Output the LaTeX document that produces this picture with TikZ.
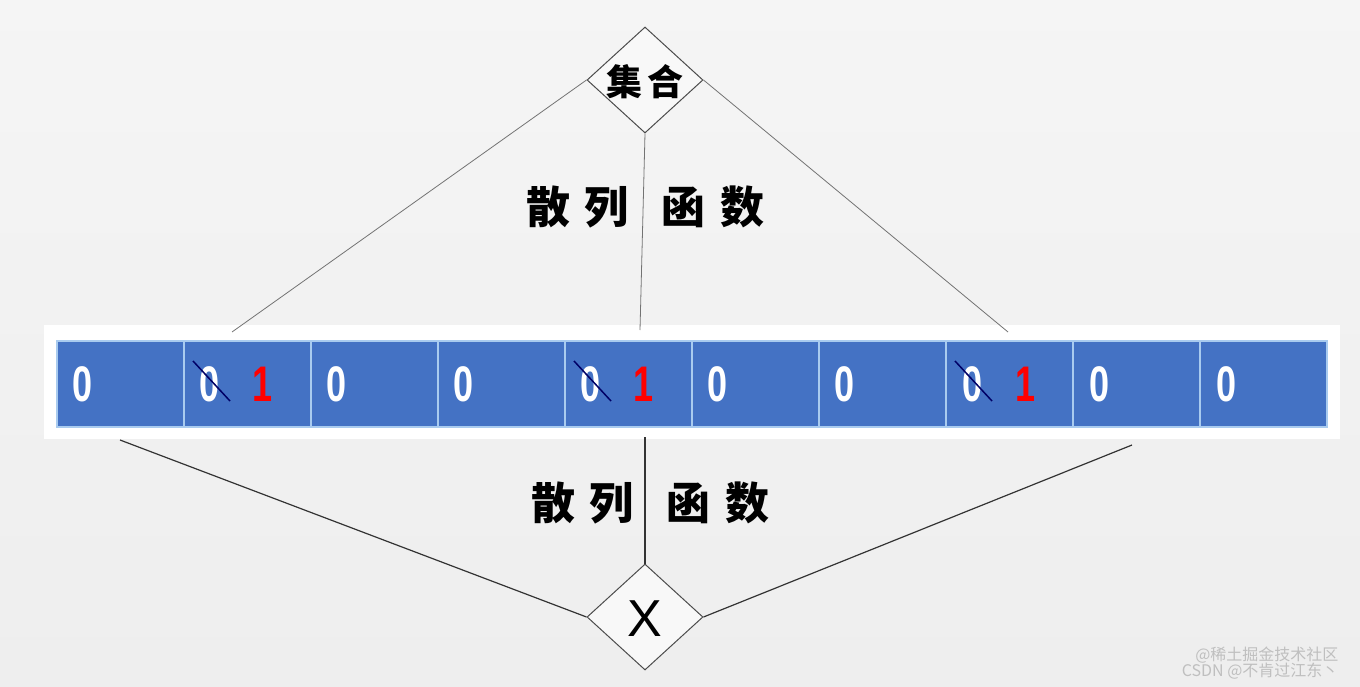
\documentclass[tikz,border=0pt]{standalone}
\usepackage{fontspec}
\setmainfont{Liberation Sans}
\newfontfamily\cjk{Noto Sans CJK SC}
\newfontfamily\digitfont[FakeStretch=0.72]{Liberation Sans}
\usetikzlibrary{shapes.geometric,calc}
\definecolor{cellblue}{HTML}{4472C4}
\definecolor{seplight}{HTML}{A9CBEF}
\definecolor{bgray}{HTML}{EEEEEE}
\begin{document}
\begin{tikzpicture}[x=1pt,y=-1pt,
  cellbox/.style={fill=cellblue,draw=seplight,line width=2pt,minimum width=127pt,minimum height=86pt,inner sep=0pt,anchor=north west},
  zero/.style={text=white,font=\digitfont\bfseries\fontsize{50}{50}\selectfont,inner sep=0pt},
  one/.style={text=red,font=\digitfont\bfseries\fontsize{50}{50}\selectfont,inner sep=0pt},
  dia/.style={diamond,draw=black!70,line width=1pt,fill=white!60!bgray,minimum width=116pt,minimum height=106pt,inner sep=0pt},
  topline/.style={draw=black!55,line width=0.8pt},
  botline/.style={draw=black!80,line width=1.2pt},
  hashtext/.style={font=\cjk\fontsize{44}{44}\selectfont\bfseries,inner sep=0pt},
  strike/.style={draw=blue!40!black,line width=1.5pt}]
\useasboundingbox (0,0) rectangle (1360,687);
\shade[top color=white!40!bgray,bottom color=bgray] (0,0) rectangle (1360,687);
% frame
\node[fill=white,minimum width=1296pt,minimum height=114pt,inner sep=0pt,anchor=north west] (frame) at (44,325) {};
% cells
\foreach \i in {1,...,10} {
  \node[cellbox] (c\i) at ({56+127*(\i-1)},340) {};
}
% digits
\foreach \i in {1,3,4,6,7,9,10} {
  \node[zero] (z\i) at ($(c\i.west)+(27,0)$) {0};
}
\foreach \i in {2,5,8} {
  \node[zero] (z\i) at ($(c\i.west)+(27,0)$) {0};
  \node[one] (o\i) at ($(c\i.west)+(80,0)$) {1};
  \draw[strike] ($(c\i.west)+(10,-23)$) -- ($(c\i.west)+(47,17)$);
}
% diamonds
\node[dia] (set) at (645,80) {};
\node[font=\cjk\fontsize{36}{36}\selectfont\bfseries] (settext) at (645,82) {集\,合};
\node[dia] (x) at (645,617) {};
\node[font=\fontsize{52}{52}\selectfont] (xtext) at (645,619) {X};
% top connectors
\coordinate (t1) at (232,332);
\coordinate (t2) at (640,330);
\coordinate (t3) at (1008,332);
\draw[topline] (set.west) -- (t1);
\draw[topline] (set.south) -- (t2);
\draw[topline] (set.east) -- (t3);
% bottom connectors
\coordinate (b1) at (120,440);
\coordinate (b2) at (645,437);
\coordinate (b3) at (1132,445);
\draw[botline] (b1) -- (x.west);
\draw[botline] (b2) -- (x.north);
\draw[botline] (b3) -- (x.east);
% labels
\node[hashtext] (h1a) at (548,207) {散};
\node[hashtext] (h1b) at (606,207) {列};
\node[hashtext] (h1c) at (683,207) {函};
\node[hashtext] (h1d) at (742,207) {数};
\node[hashtext] (h2a) at (553,503) {散};
\node[hashtext] (h2b) at (611,503) {列};
\node[hashtext] (h2c) at (688,503) {函};
\node[hashtext] (h2d) at (747,503) {数};
% watermark
\node[text=black!25,font=\cjk\fontsize{16}{16}\selectfont,anchor=east] (wm1) at (1342,655) {@稀土掘金技术社区};
\node[text=black!25,font=\cjk\fontsize{16}{16}\selectfont,anchor=east] (wm2) at (1342,671) {CSDN @不肯过江东丶};
\end{tikzpicture}
\end{document}
